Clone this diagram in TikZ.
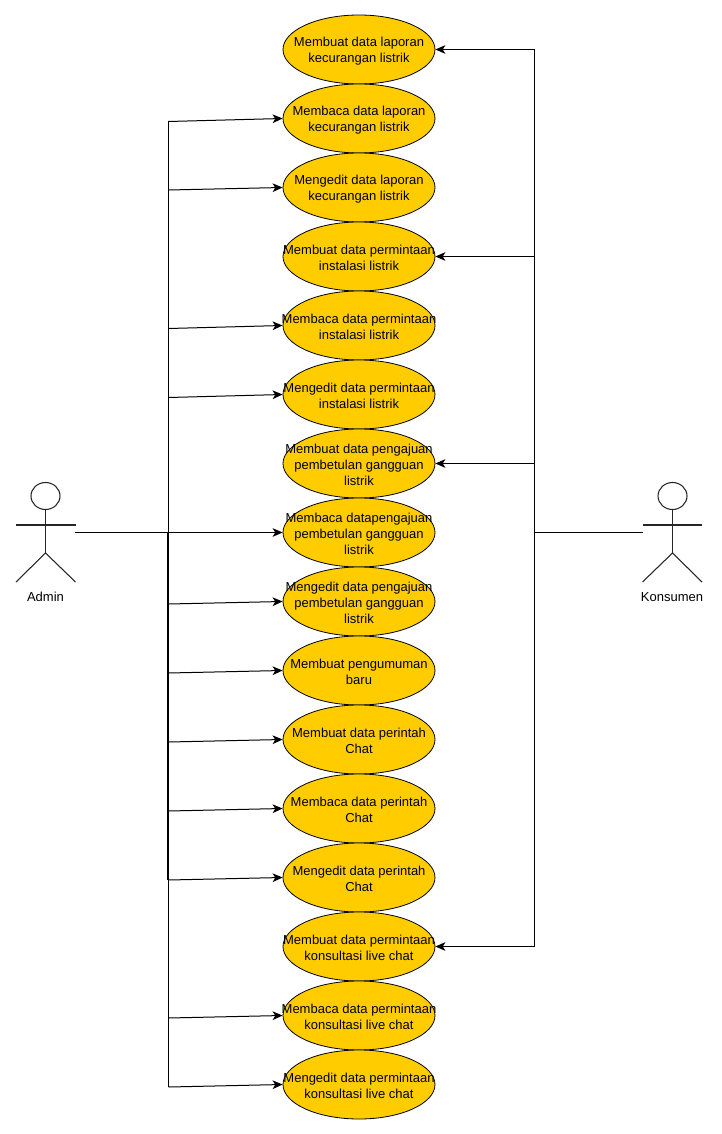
\documentclass[tikz,border=0pt]{standalone}
\usepackage{fontspec}
\setmainfont{Liberation Sans}
\usetikzlibrary{shapes.geometric,arrows.meta}
\definecolor{usefill}{HTML}{FFCC00}
\tikzset{
  usecase/.style={ellipse,draw=black,fill=usefill,line width=0.6pt,minimum width=114pt,minimum height=51.75pt,inner sep=0pt},
  usetext/.style={inner sep=0pt,align=center,font=\fontsize{9.75}{12}\selectfont,yshift=-1.1pt},
  link/.style={line width=0.75pt,draw=black},
  arrowlink/.style={link,-{Stealth[length=7.5pt,width=6.5pt,inset=2pt]}},
  figure/.style={line width=0.8pt,draw=black!85},
  actorname/.style={inner sep=0pt,font=\fontsize{9.75}{11}\selectfont}
}
\begin{document}
\begin{tikzpicture}[x=0.75pt,y=-0.75pt]
\useasboundingbox (0,0) rectangle (721,1134);
% use cases
\foreach \n/\yy in {1/49.5,2/118.5,3/187.5,4/256.5,5/325.5,6/394.5,7/463.5,8/532.5,9/601.5,10/670.5,11/739.5,12/808.5,13/877.5,14/946.5,15/1015.5,16/1084.5}{
  \node[usecase] (e\n) at (359,\yy) {};
}
\node[usetext] (t1) at (e1) {Membuat data laporan\\kecurangan listrik};
\node[usetext] (t2) at (e2) {Membaca data laporan\\kecurangan listrik};
\node[usetext] (t3) at (e3) {Mengedit data laporan\\kecurangan listrik};
\node[usetext] (t4) at (e4) {Membuat data permintaan\\instalasi listrik};
\node[usetext] (t5) at (e5) {Membaca data permintaan\\instalasi listrik};
\node[usetext] (t6) at (e6) {Mengedit data permintaan\\instalasi listrik};
\node[usetext] (t7) at (e7) {Membuat data pengajuan\\pembetulan gangguan\\listrik};
\node[usetext] (t8) at (e8) {Membaca datapengajuan\\pembetulan gangguan\\listrik};
\node[usetext] (t9) at (e9) {Mengedit data pengajuan\\pembetulan gangguan\\listrik};
\node[usetext] (t10) at (e10) {Membuat pengumuman\\baru};
\node[usetext] (t11) at (e11) {Membuat data perintah\\Chat};
\node[usetext] (t12) at (e12) {Membaca data perintah\\Chat};
\node[usetext] (t13) at (e13) {Mengedit data perintah\\Chat};
\node[usetext] (t14) at (e14) {Membuat data permintaan\\konsultasi live chat};
\node[usetext] (t15) at (e15) {Membaca data permintaan\\konsultasi live chat};
\node[usetext] (t16) at (e16) {Mengedit data permintaan\\konsultasi live chat};
% actors
\node[draw=black!85,line width=0.8pt,ellipse,minimum width=21.75pt,minimum height=20.25pt,inner sep=0pt] (adminhead) at (45.5,496) {};
\coordinate (adminhip) at (45.5,553);
\coordinate (adminarml) at (16,525);
\coordinate (adminarmr) at (75.5,525);
\coordinate (adminlegl) at (16,582);
\coordinate (adminlegr) at (75.5,582);
\draw[figure] (adminhead.south) -- (adminhip);
\draw[figure] (adminarml) -- (adminarmr);
\draw[figure] (adminlegl) -- (adminhip) -- (adminlegr);
\node[actorname] (adminlabel) at (45.5,597) {Admin};
\node[draw=black!85,line width=0.8pt,ellipse,minimum width=21.75pt,minimum height=20.25pt,inner sep=0pt] (konhead) at (672.5,496) {};
\coordinate (konhip) at (672.5,553);
\coordinate (konarml) at (642.5,525);
\coordinate (konarmr) at (702,525);
\coordinate (konlegl) at (642.5,582);
\coordinate (konlegr) at (702,582);
\draw[figure] (konhead.south) -- (konhip);
\draw[figure] (konarml) -- (konarmr);
\draw[figure] (konlegl) -- (konhip) -- (konlegr);
\node[actorname] (konlabel) at (672,597) {Konsumen};
% admin connectors
\coordinate (adminport) at (75,532.5);
\coordinate (ttop) at (168.5,121.5);
\coordinate (tbot) at (168.5,1087);
\coordinate (tmid) at (167.5,532.5);
\coordinate (tlow) at (167.5,880);
\draw[link] (ttop) -- (tbot);
\draw[link] (tmid) -- (tlow);
\draw[arrowlink] (adminport) -- (e8.west);
\foreach \yy/\tgt in {121.5/e2,190/e3,328.5/e5,397.5/e6,604/e9,673/e10,742/e11,811/e12,880/e13,1018/e15,1087/e16}{
  \coordinate (b\tgt) at (168.5,\yy);
  \draw[arrowlink] (b\tgt) -- (\tgt.west);
}
% konsumen connectors
\coordinate (konport) at (643,532.5);
\coordinate (rtop) at (534.5,49.5);
\coordinate (rbot) at (534.5,946.5);
\coordinate (rmid) at (534.5,532.5);
\draw[link] (rtop) -- (rbot);
\draw[link] (konport) -- (rmid);
\foreach \yy/\tgt in {49.5/e1,256.5/e4,463.5/e7,946.5/e14}{
  \coordinate (r\tgt) at (534.5,\yy);
  \draw[arrowlink] (r\tgt) -- (\tgt.east);
}
\end{tikzpicture}
\end{document}
